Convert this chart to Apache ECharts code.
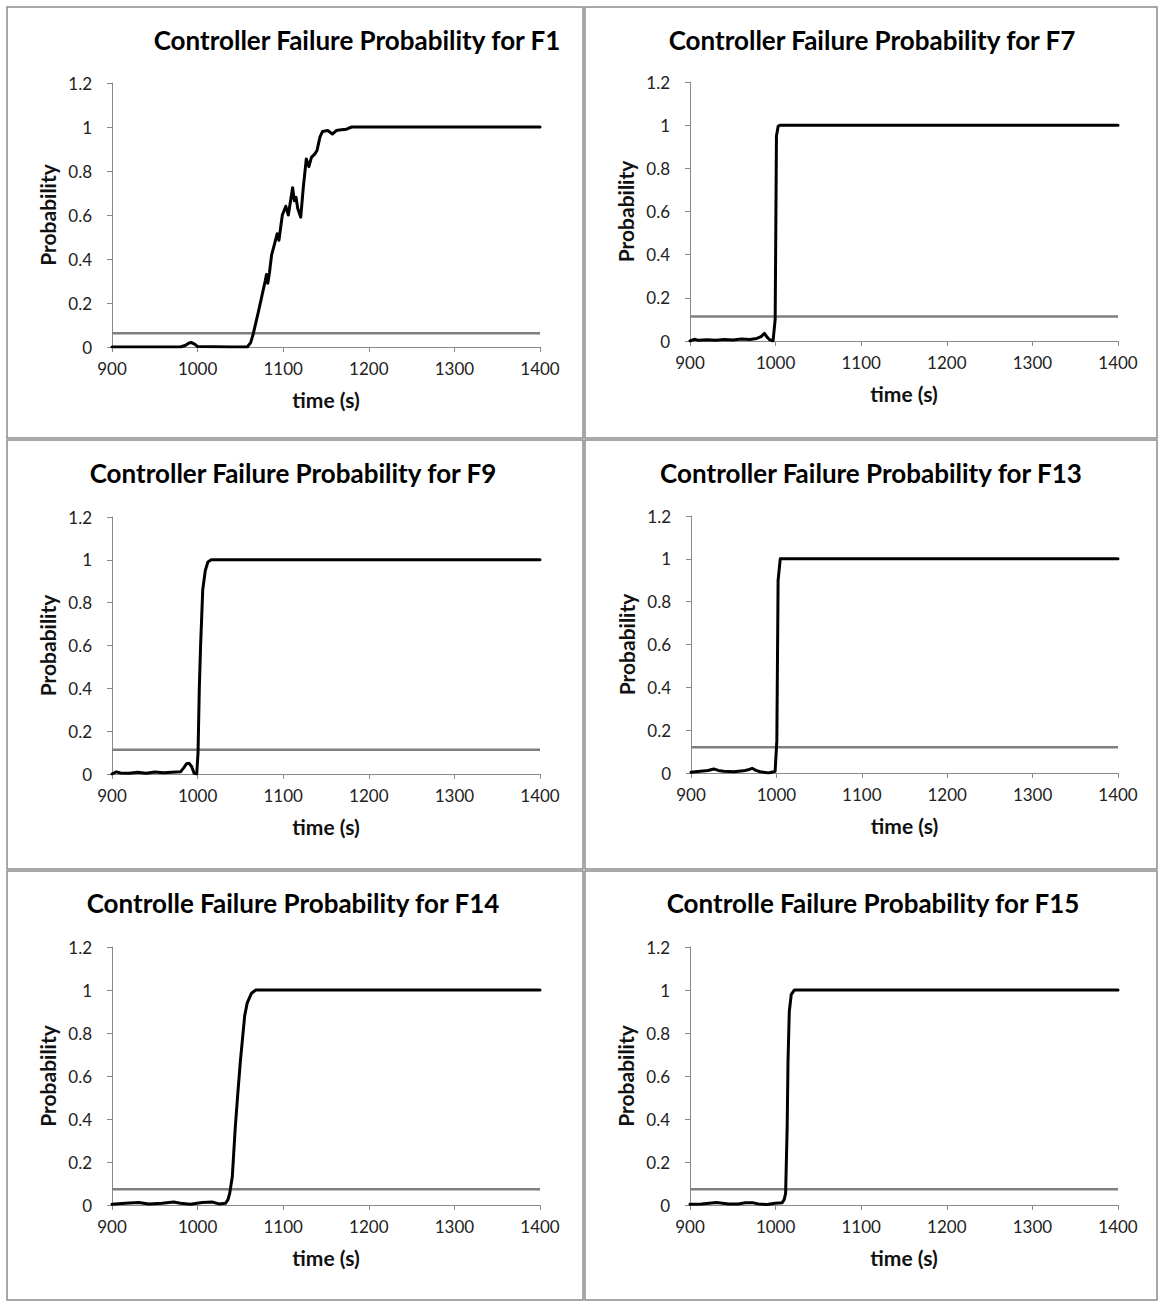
<!DOCTYPE html>
<html>
<head>
<meta charset="utf-8">
<script src="https://cdn.jsdelivr.net/npm/echarts@6/dist/echarts.min.js"></script>
<style>
html,body{margin:0;padding:0;background:#fff;}
#chart{width:1160px;height:1302px;}
</style>
</head>
<body>
<div id="chart"></div>
<script>
// ---------- data ----------
const panelTitles = [
  "Controller Failure Probability for F1",
  "Controller Failure Probability for F7",
  "Controller Failure Probability for F9",
  "Controller Failure Probability for F13",
  "Controlle Failure Probability for F14",
  "Controlle Failure Probability for F15"
];
const xAxisName = "time (s)";
const yAxisName = "Probability";

const f1Time = [900, 940, 980, 986, 990, 993, 997, 1000, 1040, 1058, 1062, 1065, 1068, 1071, 1075, 1079, 1080.5, 1082, 1084, 1086.5, 1089, 1093, 1095, 1099, 1103, 1106, 1111, 1113, 1115, 1117, 1120.5, 1123.5, 1127, 1130, 1133, 1137, 1139.5, 1143, 1146, 1152, 1157.5, 1162, 1168, 1174, 1180, 1250, 1400];
const f1Prob = [0, 0, 0, 0.008, 0.018, 0.02, 0.012, 0.002, 0, 0, 0.02, 0.06, 0.11, 0.16, 0.23, 0.3, 0.33, 0.29, 0.34, 0.42, 0.455, 0.515, 0.485, 0.6, 0.64, 0.6, 0.724, 0.665, 0.68, 0.63, 0.59, 0.727, 0.855, 0.82, 0.862, 0.878, 0.893, 0.955, 0.98, 0.984, 0.968, 0.984, 0.987, 0.99, 1.0, 1.0, 1.0];
const f1Threshold = 0.063;

const f7Time = [900, 905, 910, 920, 930, 940, 950, 960, 970, 978, 983, 987, 990, 993, 997, 999.5, 1001, 1003, 1005, 1100, 1400];
const f7Prob = [0, 0.008, 0.003, 0.006, 0.004, 0.007, 0.005, 0.009, 0.007, 0.012, 0.02, 0.035, 0.018, 0.006, 0, 0.1, 0.95, 0.995, 1.0, 1.0, 1.0];
const f7Threshold = 0.114;

const f9Time = [900, 905, 910, 920, 930, 940, 950, 960, 970, 980, 984, 987, 990, 993, 996, 999, 1000.5, 1002, 1003.5, 1006, 1009, 1012, 1016, 1020, 1400];
const f9Prob = [0, 0.01, 0.005, 0.003, 0.008, 0.004, 0.009, 0.006, 0.008, 0.01, 0.03, 0.048, 0.05, 0.035, 0.003, 0, 0.1, 0.4, 0.6, 0.86, 0.95, 0.99, 1.0, 1.0, 1.0];
const f9Threshold = 0.113;

const f13Time = [900, 911, 920, 926.5, 932, 938, 950, 961.5, 967, 971.5, 976, 981, 991, 998.5, 1000.5, 1002, 1004.5, 1400];
const f13Prob = [0.003, 0.008, 0.012, 0.019, 0.012, 0.008, 0.006, 0.01, 0.015, 0.022, 0.012, 0.006, 0, 0.008, 0.15, 0.9, 1.0, 1.0];
const f13Threshold = 0.12;

const f14Time = [900, 915.5, 931, 943, 958.5, 972, 980, 991.5, 1005.5, 1017, 1025, 1032.5, 1035.5, 1037.5, 1040.5, 1044, 1047, 1050, 1055, 1058, 1063, 1068, 1400];
const f14Prob = [0.003, 0.008, 0.012, 0.005, 0.008, 0.014, 0.008, 0.003, 0.012, 0.014, 0.005, 0.008, 0.025, 0.054, 0.13, 0.36, 0.52, 0.67, 0.88, 0.94, 0.985, 1.0, 1.0];
const f14Threshold = 0.073;

const f15Time = [900, 913.5, 931, 945, 956.5, 964.5, 974, 980, 990, 999.5, 1007.5, 1010, 1011.7, 1013.5, 1014.5, 1016, 1018.3, 1022, 1400];
const f15Prob = [0.003, 0.005, 0.012, 0.005, 0.005, 0.01, 0.01, 0.005, 0.002, 0.008, 0.01, 0.025, 0.054, 0.36, 0.67, 0.9, 0.98, 1.0, 1.0];
const f15Threshold = 0.073;

const xMin = 900, xMax = 1400, xStep = 100;
const yMin = 0, yMax = 1.2, yStep = 0.2;

// ---------- layout ----------
const panelData = [
  [f1Time, f1Prob, f1Threshold],
  [f7Time, f7Prob, f7Threshold],
  [f9Time, f9Prob, f9Threshold],
  [f13Time, f13Prob, f13Threshold],
  [f14Time, f14Prob, f14Threshold],
  [f15Time, f15Prob, f15Threshold]
];
const gridBoxes = [
  {left: 112, top: 83, width: 428, height: 264},
  {left: 690, top: 82, width: 428, height: 259},
  {left: 112, top: 517, width: 428, height: 257},
  {left: 691, top: 516, width: 427, height: 257},
  {left: 112, top: 947, width: 428, height: 258},
  {left: 690, top: 947, width: 428, height: 258}
];
const titleCenters = [[357, 40], [872, 40], [293, 473], [871, 473], [293, 903], [873, 903]];
const frames = [
  [7, 7, 576, 431], [585, 7, 572, 431],
  [7, 440, 576, 429], [585, 440, 572, 429],
  [7, 871, 576, 429], [585, 871, 572, 429]
];

const FONT = 'Lato';
const axisGray = '#8a8a8a';

const grids = [], xAxes = [], yAxes = [], series = [], graphics = [];
panelData.forEach((p, i) => {
  grids.push(Object.assign({containLabel: false}, gridBoxes[i]));
  xAxes.push({
    type: 'value', gridIndex: i, min: xMin, max: xMax, interval: xStep,
    name: xAxisName, nameLocation: 'middle', nameGap: 42,
    nameTextStyle: {fontFamily: FONT, fontWeight: 'bold', fontSize: 21, color: '#111'},
    axisLine: {onZero: false, lineStyle: {color: axisGray, width: 1}},
    axisTick: {show: true, inside: false, length: 5, lineStyle: {color: axisGray}},
    axisLabel: {fontFamily: FONT, fontSize: 17, color: '#222', margin: 13,
                formatter: v => String(v)},
    splitLine: {show: false}
  });
  yAxes.push({
    type: 'value', gridIndex: i, min: yMin, max: yMax, interval: yStep,
    name: yAxisName, nameLocation: 'middle', nameGap: 54,
    nameTextStyle: {fontFamily: FONT, fontWeight: 'bold', fontSize: 21, color: '#111'},
    axisLine: {show: true, lineStyle: {color: axisGray, width: 1}},
    axisTick: {show: true, inside: false, length: 5, lineStyle: {color: axisGray}},
    axisLabel: {fontFamily: FONT, fontSize: 17, color: '#222', margin: 20},
    splitLine: {show: false}
  });
  series.push({
    type: 'line', xAxisIndex: i, yAxisIndex: i, silent: true,
    data: [[xMin, p[2]], [xMax, p[2]]],
    showSymbol: false, symbol: 'none',
    lineStyle: {color: '#7f7f7f', width: 2.5}
  });
  series.push({
    type: 'line', xAxisIndex: i, yAxisIndex: i, silent: true,
    data: p[0].map((t, k) => [t, p[1][k]]),
    showSymbol: false, symbol: 'none',
    lineStyle: {color: '#000', width: 3, join: 'round', cap: 'round'}
  });
  graphics.push({
    type: 'rect', silent: true, z: -1,
    shape: {x: frames[i][0], y: frames[i][1], width: frames[i][2], height: frames[i][3]},
    style: {fill: 'none', stroke: '#8c8c8c', lineWidth: 1.5}
  });
  graphics.push({
    type: 'text', silent: true,
    x: titleCenters[i][0], y: titleCenters[i][1],
    style: {text: panelTitles[i], fontFamily: FONT, fontWeight: 'bold', fontSize: 26,
            fill: '#000', textAlign: 'center', textVerticalAlign: 'middle'}
  });
});

const chart = echarts.init(document.getElementById('chart'), null, {renderer: 'svg'});
chart.setOption({
  animation: false,
  backgroundColor: '#fff',
  grid: grids,
  xAxis: xAxes,
  yAxis: yAxes,
  series: series,
  graphic: graphics
});
</script>
</body>
</html>
